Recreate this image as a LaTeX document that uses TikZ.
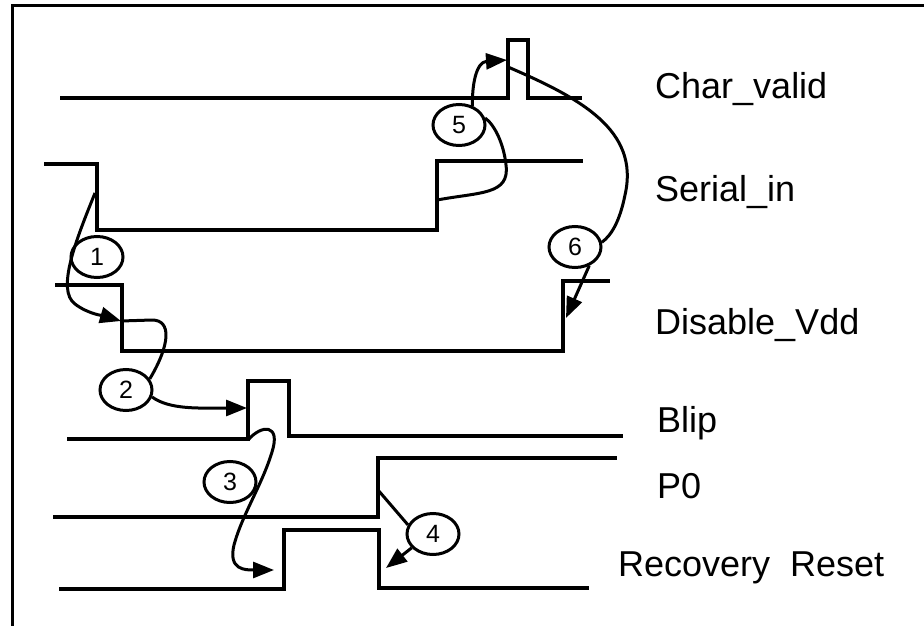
\documentclass[tikz,border=0pt]{standalone}
\usepackage{fontspec}
\setmainfont{Liberation Sans}
\usetikzlibrary{arrows.meta, shapes.geometric}

\begin{document}
\begin{tikzpicture}[x=1pt, y=-1pt,
    sig/.style={line width=3.4pt, line join=miter},
    conn/.style={line width=3pt},
    arrow/.style={conn, -{Triangle[length=21pt, width=16pt]}},
    num/.style={draw, ellipse, line width=3pt, fill=white, minimum width=52pt,
                minimum height=41pt, inner sep=0pt, font=\fontsize{25}{25}\selectfont},
    sigtext/.style={anchor=base west, inner sep=0pt, font=\fontsize{36}{36}\selectfont}
  ]
    \useasboundingbox (0,0) rectangle (924,626);
    \draw[line width=3pt] (12,626) -- (12,6) -- (924,6);

    % Waveforms
    \draw[sig] (60,98) -- (508,98) -- (508,40) -- (528,40) -- (528,98) -- (582,98);
    \draw[sig] (44,164) -- (97,164) -- (97,230) -- (437,230) -- (437,161) -- (583,161);
    \draw[sig] (55,285) -- (122,285) -- (122,351) -- (563,351) -- (563,281) -- (610,281);
    \draw[sig] (67,439) -- (248,439) -- (248,381) -- (289,381) -- (289,436) -- (623,436);
    \draw[sig] (53,517) -- (378,517) -- (378,458) -- (617,458);
    \draw[sig] (59,589) -- (284,589) -- (284,530) -- (379,530) -- (379,588) -- (589,588);

    % Signal names
    \node[sigtext] (lchar) at (655,99)  {Char\_valid};
    \node[sigtext] (lser)  at (655,201) {Serial\_in};
    \node[sigtext] (ldis)  at (655,334) {Disable\_Vdd};
    \node[sigtext] (lblip) at (657,432) {Blip};
    \node[sigtext] (lp0)   at (657,498) {P0};
    \node[sigtext] (lrec)  at (618,576) {Recovery\ \ Reset};

    % Points on the edges
    \coordinate (serfall)  at (95,193);
    \coordinate (disfall)  at (121,321);
    \coordinate (bliprise) at (247,408);
    \coordinate (bliplow)  at (248,440);
    \coordinate (recrise)  at (274,570);
    \coordinate (p0rise)   at (378,490);
    \coordinate (recfall)  at (386,568);
    \coordinate (serrise)  at (437,200);
    \coordinate (charrise) at (507,60);
    \coordinate (charhigh) at (508,67);
    \coordinate (disrise)  at (566,318);

    % Step numbers
    \node[num] (n1) at (97,257)  {1};
    \node[num] (n2) at (126,390) {2};
    \node[num] (n3) at (230,482) {3};
    \node[num] (n4) at (433,534) {4};
    \node[num] (n5) at (459,125) {5};
    \node[num] (n6) at (575,247) {6};

    % Causal arrows
    \draw[arrow] (serfall) .. controls (76,240) and (56,290) .. (75,304)
                 .. controls (88,314) and (104,316) .. (disfall);
    \draw[conn] (disfall) -- (152,320) .. controls (172,320) and (170,345) .. (n2.25);
    \draw[arrow] (n2.-15) .. controls (170,410) and (200,408) .. (bliprise);
    \draw[arrow] (bliplow) .. controls (262,424) and (281,424) .. (272,452)
                 .. controls (262,485) and (242,515) .. (234,545)
                 .. controls (228,570) and (245,570) .. (recrise);
    \draw[conn] (p0rise) -- (n4.160);
    \draw[arrow] (n4.-147) -- (recfall);
    \draw[conn] (serrise) .. controls (480,192) and (510,195) .. (506,165)
                .. controls (504,145) and (495,125) .. (n5.15);
    \draw[arrow] (n5.55) .. controls (472,85) and (476,62) .. (charrise);
    \draw[conn] (charhigh) .. controls (580,98) and (640,130) .. (625,195)
                .. controls (620,220) and (612,235) .. (n6.10);
    \draw[arrow] (n6.-53) -- (disrise);
  \end{tikzpicture}
\end{document}
